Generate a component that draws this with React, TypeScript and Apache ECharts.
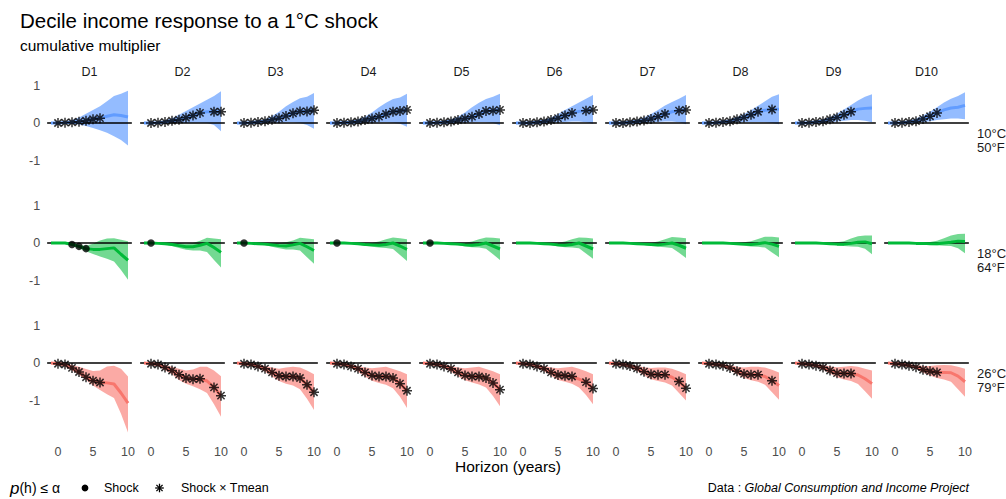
import React, { useEffect, useRef } from "react";
import * as echarts from "echarts";

// ---------------- data ----------------
const H = [-1, 0, 1, 2, 3, 4, 5, 6, 7, 8, 9, 10];
const DECILES = ["D1", "D2", "D3", "D4", "D5", "D6", "D7", "D8", "D9", "D10"];
const ROW_LABELS = [["10°C", "50°F"], ["18°C", "64°F"], ["26°C", "79°F"]];
const X_TICKS = [0, 5, 10];
const Y_TICKS = [-1, 0, 1];

// 10°C row (blue)
const blueMid = [
  [0, 0, 0.01, 0.02, 0.035, 0.06, 0.1, 0.13, 0.18, 0.22, 0.2, 0.16],
  [0, 0, 0.01, 0.03, 0.06, 0.09, 0.14, 0.2, 0.27, 0.3, 0.3, 0.3],
  [0, 0, 0.01, 0.03, 0.05, 0.09, 0.13, 0.19, 0.26, 0.31, 0.31, 0.34],
  [0, 0, 0.01, 0.02, 0.04, 0.08, 0.12, 0.17, 0.24, 0.3, 0.32, 0.35],
  [0, 0, 0.01, 0.02, 0.04, 0.08, 0.12, 0.17, 0.24, 0.32, 0.33, 0.35],
  [0, 0, 0, 0.02, 0.04, 0.08, 0.13, 0.2, 0.27, 0.31, 0.33, 0.35],
  [0, 0, 0, 0.02, 0.04, 0.07, 0.11, 0.17, 0.24, 0.3, 0.33, 0.35],
  [0, 0, 0.01, 0.03, 0.05, 0.1, 0.15, 0.22, 0.3, 0.34, 0.36, 0.37],
  [0, 0, 0.01, 0.03, 0.05, 0.1, 0.15, 0.22, 0.3, 0.37, 0.39, 0.4],
  [0, 0, 0.01, 0.03, 0.05, 0.11, 0.18, 0.27, 0.35, 0.4, 0.42, 0.47],
];
const blueLo = [
  [0, -0.01, -0.01, -0.02, -0.04, -0.08, -0.13, -0.19, -0.26, -0.35, -0.45, -0.6],
  [0, 0, -0.01, -0.01, 0, 0, 0, 0.01, 0.01, 0, -0.05, -0.22],
  [0, -0.01, -0.01, -0.01, 0, 0.01, 0.01, 0.02, 0.02, 0, -0.05, -0.15],
  [0, -0.01, -0.01, 0, 0, 0.01, 0.01, 0.02, 0.02, 0.01, -0.02, -0.1],
  [0, -0.01, -0.01, 0, 0, 0.01, 0.01, 0.02, 0.03, 0.02, 0, -0.06],
  [0, -0.01, -0.01, -0.01, 0, 0.01, 0.02, 0.03, 0.04, 0.04, 0.02, -0.02],
  [0, -0.01, -0.01, -0.01, 0, 0.01, 0.02, 0.03, 0.04, 0.04, 0.02, -0.03],
  [0, -0.01, -0.01, 0, 0.01, 0.02, 0.03, 0.03, 0.03, 0.02, 0, -0.03],
  [0, -0.01, -0.01, 0, 0.01, 0.02, 0.04, 0.06, 0.08, 0.08, 0.06, 0.02],
  [0, -0.01, -0.01, 0, 0.01, 0.02, 0.05, 0.08, 0.1, 0.12, 0.12, 0.1],
];
const blueHi = [
  [0, 0.02, 0.04, 0.08, 0.15, 0.25, 0.35, 0.45, 0.58, 0.72, 0.78, 0.86],
  [0, 0.01, 0.03, 0.07, 0.13, 0.22, 0.32, 0.42, 0.52, 0.62, 0.72, 0.85],
  [0, 0.01, 0.03, 0.06, 0.1, 0.18, 0.3, 0.45, 0.56, 0.66, 0.7, 0.8],
  [0, 0.01, 0.03, 0.06, 0.1, 0.17, 0.28, 0.42, 0.54, 0.64, 0.68, 0.78],
  [0, 0.01, 0.03, 0.06, 0.1, 0.17, 0.28, 0.42, 0.54, 0.64, 0.7, 0.78],
  [0, 0.01, 0.02, 0.05, 0.09, 0.15, 0.24, 0.35, 0.45, 0.55, 0.65, 0.75],
  [0, 0.01, 0.02, 0.05, 0.09, 0.15, 0.24, 0.35, 0.47, 0.56, 0.65, 0.75],
  [0, 0.01, 0.03, 0.06, 0.1, 0.16, 0.24, 0.34, 0.46, 0.58, 0.7, 0.77],
  [0, 0.01, 0.03, 0.06, 0.1, 0.16, 0.25, 0.36, 0.48, 0.6, 0.7, 0.77],
  [0, 0.01, 0.03, 0.06, 0.12, 0.2, 0.3, 0.42, 0.55, 0.65, 0.72, 0.82],
];
const blueStarH = [
  [0, 1, 2, 3, 4, 5, 6],
  [0, 1, 2, 3, 4, 5, 6, 7, 9, 10],
  [0, 1, 2, 3, 4, 5, 6, 7, 8, 9, 10],
  [0, 1, 2, 3, 4, 5, 6, 7, 8, 9, 10],
  [0, 1, 2, 3, 4, 5, 6, 7, 8, 9, 10],
  [0, 1, 2, 3, 4, 5, 6, 7, 9, 10],
  [0, 1, 2, 3, 4, 5, 6, 7, 9, 10],
  [0, 1, 2, 3, 4, 5, 6, 7, 9],
  [0, 1, 2, 3, 4, 5, 6, 7],
  [0, 1, 2, 3, 4, 5, 6],
];

// 18°C row (green)
const greenMid = [
  [0, 0, 0, -0.04, -0.09, -0.15, -0.17, -0.17, -0.15, -0.13, -0.3, -0.46],
  [0, 0, -0.01, -0.02, -0.04, -0.07, -0.1, -0.1, -0.06, -0.01, -0.12, -0.25],
  [0, 0, -0.01, -0.02, -0.03, -0.05, -0.07, -0.08, -0.05, -0.01, -0.1, -0.2],
  [0, 0, 0, -0.01, -0.02, -0.04, -0.05, -0.06, -0.04, 0, -0.08, -0.17],
  [0, 0, 0, -0.01, -0.02, -0.03, -0.05, -0.06, -0.04, 0, -0.08, -0.16],
  [0, 0, 0, -0.01, -0.02, -0.03, -0.05, -0.06, -0.04, 0, -0.08, -0.16],
  [0, 0, 0, -0.01, -0.02, -0.03, -0.04, -0.05, -0.03, 0, -0.06, -0.14],
  [0, 0, 0, 0, -0.01, -0.02, -0.03, -0.04, -0.02, 0.01, -0.03, -0.09],
  [0, 0, 0, 0, -0.01, -0.02, -0.03, -0.03, -0.01, 0.02, 0.03, -0.02],
  [0, 0, 0, 0, -0.01, -0.01, -0.02, -0.02, 0, 0.02, 0.05, 0.04],
];
const greenLo = [
  [0, 0, -0.01, -0.06, -0.14, -0.22, -0.29, -0.36, -0.42, -0.49, -0.72, -0.98],
  [0, 0, -0.02, -0.04, -0.08, -0.13, -0.18, -0.2, -0.2, -0.24, -0.45, -0.65],
  [0, 0, -0.02, -0.04, -0.06, -0.1, -0.14, -0.17, -0.17, -0.2, -0.38, -0.55],
  [0, 0, -0.01, -0.02, -0.04, -0.07, -0.1, -0.12, -0.13, -0.16, -0.32, -0.48],
  [0, 0, -0.01, -0.02, -0.04, -0.06, -0.09, -0.11, -0.12, -0.15, -0.3, -0.45],
  [0, 0, -0.01, -0.02, -0.04, -0.06, -0.09, -0.11, -0.12, -0.14, -0.28, -0.42],
  [0, 0, -0.01, -0.02, -0.03, -0.05, -0.08, -0.1, -0.11, -0.13, -0.26, -0.4],
  [0, 0, -0.01, -0.02, -0.03, -0.05, -0.07, -0.09, -0.1, -0.12, -0.25, -0.38],
  [0, 0, -0.01, -0.02, -0.03, -0.04, -0.06, -0.08, -0.09, -0.1, -0.15, -0.3],
  [0, 0, -0.01, -0.01, -0.02, -0.03, -0.05, -0.06, -0.07, -0.08, -0.14, -0.27],
];
const greenHi = [
  [0, 0, 0.01, -0.02, -0.05, -0.07, -0.02, 0.07, 0.12, 0.13, 0.09, 0.05],
  [0, 0, 0.01, 0.01, 0.01, 0, -0.02, 0, 0.06, 0.14, 0.12, 0.1],
  [0, 0, 0.01, 0.01, 0.01, 0.01, 0, 0.02, 0.07, 0.14, 0.12, 0.1],
  [0, 0, 0.01, 0.01, 0.01, 0.01, 0.01, 0.04, 0.1, 0.15, 0.13, 0.1],
  [0, 0, 0.01, 0.01, 0.01, 0.01, 0.01, 0.04, 0.1, 0.15, 0.14, 0.12],
  [0, 0, 0.01, 0.01, 0.01, 0.01, 0.01, 0.04, 0.1, 0.15, 0.14, 0.12],
  [0, 0, 0.01, 0.01, 0.01, 0.01, 0.01, 0.04, 0.1, 0.16, 0.15, 0.13],
  [0, 0, 0.01, 0.01, 0.01, 0.01, 0.02, 0.05, 0.11, 0.17, 0.17, 0.15],
  [0, 0, 0.01, 0.01, 0.01, 0.01, 0.02, 0.05, 0.12, 0.18, 0.2, 0.2],
  [0, 0, 0.01, 0.01, 0.01, 0.02, 0.03, 0.06, 0.13, 0.2, 0.24, 0.25],
];
const greenDotH = [[2, 3, 4], [0], [0], [0], [0], [], [], [], [], []];

// 26°C row (red)
const redMid = [
  [0, -0.02, -0.04, -0.13, -0.24, -0.38, -0.47, -0.52, -0.53, -0.56, -0.8, -1.07],
  [0, -0.02, -0.04, -0.12, -0.2, -0.31, -0.4, -0.43, -0.42, -0.48, -0.65, -0.87],
  [0, -0.02, -0.04, -0.09, -0.15, -0.25, -0.34, -0.36, -0.36, -0.4, -0.58, -0.78],
  [0, -0.02, -0.04, -0.09, -0.15, -0.25, -0.33, -0.36, -0.36, -0.4, -0.55, -0.74],
  [0, -0.02, -0.04, -0.09, -0.15, -0.25, -0.33, -0.36, -0.36, -0.4, -0.53, -0.71],
  [0, -0.02, -0.04, -0.09, -0.15, -0.25, -0.32, -0.34, -0.36, -0.43, -0.51, -0.68],
  [0, -0.02, -0.04, -0.08, -0.14, -0.23, -0.3, -0.31, -0.31, -0.38, -0.49, -0.67],
  [0, -0.02, -0.04, -0.07, -0.13, -0.22, -0.29, -0.31, -0.31, -0.36, -0.47, -0.6],
  [0, -0.02, -0.04, -0.07, -0.12, -0.2, -0.27, -0.28, -0.28, -0.32, -0.42, -0.55],
  [0, -0.02, -0.04, -0.07, -0.11, -0.18, -0.22, -0.25, -0.25, -0.26, -0.35, -0.5],
];
const redLo = [
  [0, -0.04, -0.1, -0.2, -0.32, -0.45, -0.6, -0.72, -0.83, -0.93, -1.35, -1.85],
  [0, -0.03, -0.07, -0.19, -0.3, -0.45, -0.55, -0.62, -0.7, -0.8, -1.1, -1.43],
  [0, -0.03, -0.07, -0.14, -0.23, -0.36, -0.48, -0.55, -0.6, -0.7, -0.95, -1.25],
  [0, -0.03, -0.07, -0.14, -0.23, -0.36, -0.47, -0.53, -0.58, -0.67, -0.9, -1.2],
  [0, -0.03, -0.07, -0.14, -0.23, -0.35, -0.46, -0.52, -0.57, -0.65, -0.88, -1.15],
  [0, -0.03, -0.07, -0.14, -0.22, -0.34, -0.45, -0.5, -0.55, -0.65, -0.85, -1.1],
  [0, -0.03, -0.06, -0.13, -0.21, -0.33, -0.43, -0.48, -0.52, -0.6, -0.8, -1.0],
  [0, -0.03, -0.06, -0.11, -0.19, -0.3, -0.4, -0.46, -0.5, -0.58, -0.78, -0.98],
  [0, -0.03, -0.06, -0.11, -0.18, -0.28, -0.38, -0.44, -0.48, -0.56, -0.75, -0.95],
  [0, -0.03, -0.06, -0.1, -0.16, -0.26, -0.33, -0.4, -0.44, -0.5, -0.7, -0.9],
];
const redHi = [
  [0, 0, -0.01, -0.05, -0.1, -0.16, -0.21, -0.2, -0.09, -0.07, -0.15, -0.36],
  [0, 0, -0.01, -0.05, -0.1, -0.15, -0.2, -0.17, -0.1, -0.1, -0.2, -0.35],
  [0, 0, -0.01, -0.04, -0.08, -0.12, -0.15, -0.12, -0.1, -0.12, -0.2, -0.3],
  [0, 0, -0.01, -0.04, -0.08, -0.12, -0.14, -0.12, -0.1, -0.16, -0.22, -0.3],
  [0, 0, -0.01, -0.04, -0.08, -0.12, -0.14, -0.12, -0.1, -0.16, -0.22, -0.3],
  [0, 0, -0.01, -0.04, -0.08, -0.12, -0.14, -0.12, -0.1, -0.15, -0.22, -0.3],
  [0, 0, -0.01, -0.03, -0.07, -0.11, -0.13, -0.12, -0.12, -0.15, -0.22, -0.3],
  [0, 0, -0.01, -0.03, -0.06, -0.1, -0.12, -0.1, -0.1, -0.12, -0.18, -0.25],
  [0, 0, -0.01, -0.03, -0.05, -0.09, -0.11, -0.1, -0.08, -0.1, -0.15, -0.2],
  [0, 0, -0.01, -0.03, -0.05, -0.08, -0.08, -0.06, -0.05, -0.06, -0.1, -0.15],
];
const redStarH = [
  [0, 1, 2, 3, 4, 5, 6],
  [0, 1, 2, 3, 4, 5, 6, 7, 9, 10],
  [0, 1, 2, 3, 4, 5, 6, 7, 8, 9, 10],
  [0, 1, 2, 3, 4, 5, 6, 7, 8, 9, 10],
  [0, 1, 2, 3, 4, 5, 6, 7, 8, 9, 10],
  [0, 1, 2, 3, 4, 5, 6, 7, 9, 10],
  [0, 1, 2, 3, 4, 5, 6, 7, 9, 10],
  [0, 1, 2, 3, 4, 5, 6, 7, 9],
  [0, 1, 2, 3, 4, 5, 6, 7],
  [0, 1, 2, 3, 4, 5, 6],
];

// ---------------- styling / layout ----------------
const FONT = "'Liberation Sans', Arial, Helvetica, sans-serif";
const X_MIN = -1.55;
const X_MAX = 10.55;
const Y_MIN = -1.97;
const Y_MAX = 1.04;
const PX_X = 7;
const PX_Y = 37.5;
const COL_ZERO0 = 58;
const COL_STEP = 93;
const ROW_ZERO = [123, 243, 363];

const ROWS = [
  { mid: blueMid, lo: blueLo, hi: blueHi, stars: blueStarH, dots: null as any, line: "#619CFF", fill: "rgba(97,156,255,0.68)" },
  { mid: greenMid, lo: greenLo, hi: greenHi, stars: null as any, dots: greenDotH, line: "#00BA38", fill: "rgba(0,186,56,0.55)" },
  { mid: redMid, lo: redLo, hi: redHi, stars: redStarH, dots: null as any, line: "#F8766D", fill: "rgba(248,118,109,0.62)" },
];

const STAR =
  "path://M0,-1L0,1M-1,0L1,0M-0.72,-0.72L0.72,0.72M-0.72,0.72L0.72,-0.72";

function buildOption() {
  const grid: any[] = [];
  const xAxis: any[] = [];
  const yAxis: any[] = [];
  const series: any[] = [];
  const gW = (X_MAX - X_MIN) * PX_X;
  const gH = (Y_MAX - Y_MIN) * PX_Y;
  let k = 0;
  ROWS.forEach((row, r) => {
    for (let c = 0; c < 10; c++) {
      const left = COL_ZERO0 + COL_STEP * c + X_MIN * PX_X;
      const top = ROW_ZERO[r] - Y_MAX * PX_Y;
      grid.push({ left, top, width: gW, height: gH, containLabel: false });
      xAxis.push({
        gridIndex: k,
        type: "value",
        min: X_MIN,
        max: X_MAX,
        axisLine: { show: false },
        axisTick: { show: false },
        splitLine: { show: false },
        axisLabel: {
          show: r === 2,
          customValues: X_TICKS,
          color: "#4D4D4D",
          fontSize: 12.5,
          fontFamily: FONT,
          margin: 9,
        },
      });
      yAxis.push({
        gridIndex: k,
        type: "value",
        min: Y_MIN,
        max: Y_MAX,
        axisLine: { show: false },
        axisTick: { show: false },
        splitLine: { show: false },
        axisLabel: {
          show: c === 0,
          customValues: Y_TICKS,
          color: "#4D4D4D",
          fontSize: 12.5,
          fontFamily: FONT,
          margin: 7,
        },
      });
      const mid = row.mid[c];
      const lo = row.lo[c];
      const hi = row.hi[c];
      series.push({
        type: "custom",
        xAxisIndex: k,
        yAxisIndex: k,
        silent: true,
        z: 1,
        data: H.map((h, i) => [h, lo[i], hi[i]]),
        encode: { x: 0, y: [1, 2] },
        renderItem: (params: any, api: any) => {
          if (params.dataIndex !== 0) return { type: "group", children: [] };
          const top = H.map((h, i) => api.coord([h, hi[i]]));
          const bot = H.map((h, i) => api.coord([h, lo[i]])).reverse();
          return {
            type: "polygon",
            shape: { points: top.concat(bot) },
            style: { fill: row.fill },
          };
        },
      });
      series.push({
        type: "line",
        xAxisIndex: k,
        yAxisIndex: k,
        silent: true,
        z: 2,
        symbol: "none",
        data: [
          [X_MIN, 0],
          [X_MAX, 0],
        ],
        lineStyle: { color: "#000", width: 1.3 },
      });
      series.push({
        type: "line",
        xAxisIndex: k,
        yAxisIndex: k,
        silent: true,
        z: 3,
        symbol: "none",
        showSymbol: false,
        data: H.map((h, i) => [h, mid[i]]),
        lineStyle: { color: row.line, width: 3 },
      });
      if (row.stars) {
        series.push({
          type: "scatter",
          xAxisIndex: k,
          yAxisIndex: k,
          silent: true,
          z: 4,
          symbol: STAR,
          symbolSize: 10,
          data: row.stars[c].map((h: number) => [h, mid[H.indexOf(h)]]),
          itemStyle: { color: "rgba(0,0,0,0)", borderColor: "#000", borderWidth: 1.5 },
        });
      }
      if (row.dots) {
        series.push({
          type: "scatter",
          xAxisIndex: k,
          yAxisIndex: k,
          silent: true,
          z: 4,
          symbol: "circle",
          symbolSize: 7.5,
          data: row.dots[c].map((h: number) => [h, mid[H.indexOf(h)]]),
          itemStyle: { color: "#000" },
        });
      }
      k++;
    }
  });

  const txt = (text: string, x: number, y: number, size: number, extra: any = {}) => ({
    type: "text",
    x,
    y,
    silent: true,
    style: {
      text,
      fill: extra.fill || "#1A1A1A",
      fontSize: size,
      fontFamily: FONT,
      fontStyle: extra.fontStyle || "normal",
      align: extra.align || "left",
      textAlign: extra.align || "left",
      verticalAlign: "middle",
      textVerticalAlign: "middle",
      rich: extra.rich,
      lineHeight: extra.lineHeight,
    },
  });

  const graphic: any[] = [];
  graphic.push(txt("Decile income response to a 1°C shock", 20, 20, 20.5, { fill: "#000" }));
  graphic.push(txt("cumulative multiplier", 20, 45, 15.5, { fill: "#000" }));
  DECILES.forEach((d, c) => {
    graphic.push(txt(d, COL_ZERO0 + COL_STEP * c + ((X_MIN + X_MAX) / 2) * PX_X, 72, 12.5, { align: "center" }));
  });
  ROW_LABELS.forEach((lab, r) => {
    const cy = ROW_ZERO[r] - ((Y_MAX + Y_MIN) / 2) * PX_Y;
    graphic.push(txt(lab.join("\n"), 977, cy, 13, { lineHeight: 13.5 }));
  });
  graphic.push(txt("Horizon (years)", 508, 466, 15.5, { align: "center", fill: "#000" }));
  // legend
  graphic.push(
    txt("{i|p}{n|(h) ≤ α}", 10, 488, 14, {
      fill: "#000",
      rich: {
        i: { fontStyle: "italic", fontSize: 17, fontFamily: FONT, fill: "#000" },
        n: { fontSize: 14, fontFamily: FONT, fill: "#000" },
      },
    })
  );
  graphic.push({ type: "circle", silent: true, shape: { cx: 85, cy: 488, r: 3.4 }, style: { fill: "#000" } });
  graphic.push(txt("Shock", 104, 488, 12.5, { fill: "#000" }));
  const sx = 159.5, sy = 488, sr = 4.3, sd = sr * 0.72;
  [
    [sx, sy - sr, sx, sy + sr],
    [sx - sr, sy, sx + sr, sy],
    [sx - sd, sy - sd, sx + sd, sy + sd],
    [sx - sd, sy + sd, sx + sd, sy - sd],
  ].forEach(([x1, y1, x2, y2]) =>
    graphic.push({ type: "line", silent: true, shape: { x1, y1, x2, y2 }, style: { stroke: "#000", lineWidth: 1.3 } })
  );
  graphic.push(txt("Shock × Tmean", 181, 488, 12.5, { fill: "#000" }));
  graphic.push(
    txt("{n|Data : }{i|Global Consumption and Income Project}", 969, 488, 12.5, {
      align: "right",
      fill: "#000",
      rich: {
        n: { fontSize: 12.5, fontFamily: FONT, fill: "#000" },
        i: { fontSize: 12.5, fontFamily: FONT, fontStyle: "italic", fill: "#000" },
      },
    })
  );

  return {
    animation: false,
    backgroundColor: "#fff",
    grid,
    xAxis,
    yAxis,
    series,
    graphic,
  };
}

export default function App() {
  const ref = useRef<HTMLDivElement | null>(null);
  useEffect(() => {
    if (!ref.current) return;
    const chart = echarts.init(ref.current, undefined, { renderer: "svg" });
    chart.setOption(buildOption() as any);
    return () => chart.dispose();
  }, []);
  return (
    <div
      ref={ref}
      style={{ position: "absolute", left: 0, top: 0, width: 1006, height: 499, background: "#fff" }}
    />
  );
}
